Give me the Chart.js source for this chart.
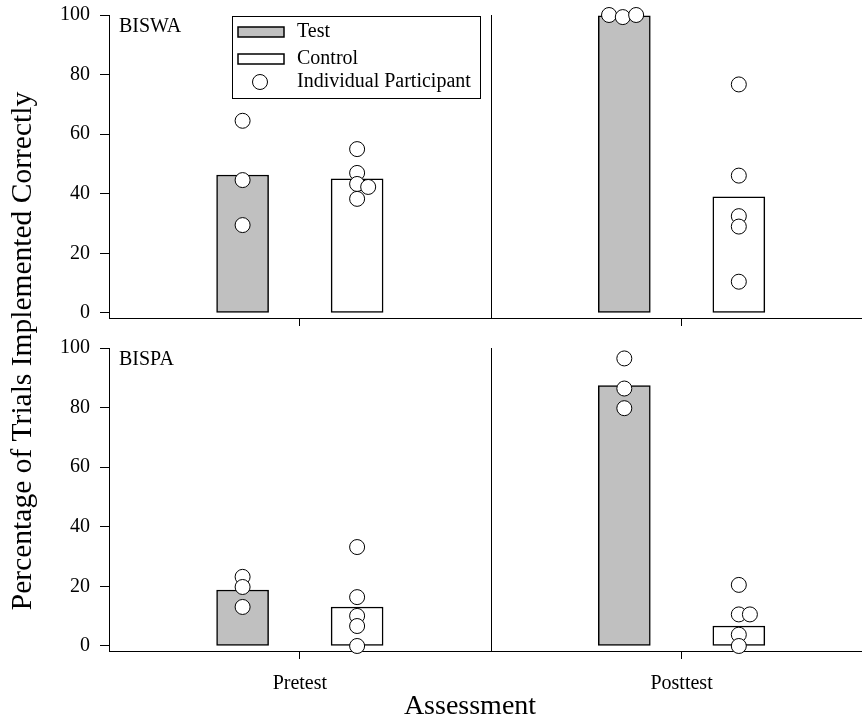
<!DOCTYPE html>
<html>
<head>
<meta charset="utf-8">
<script src="https://cdn.jsdelivr.net/npm/chart.js@4"></script>
<style>
  html, body { margin: 0; padding: 0; background: #fff; overflow: hidden; }
  #wrap { position: relative; width: 862px; height: 725px; overflow: hidden; }
  #wrap canvas { position: absolute; left: 0; top: 0; }
</style>
</head>
<body>
<div id="wrap">
  <canvas id="panel-biswa" width="871" height="725"></canvas>
  <canvas id="panel-bispa" width="871" height="725"></canvas>
</div>
<script>
const assessments = ["Pretest", "Posttest"];
const groups = ["Test", "Control"];
const yTicks = [0, 20, 40, 60, 80, 100];

// group means [pretest, posttest]
const biswaTest = [46.3, 99.7];
const biswaControl = [45, 39];
const bispaTest = [18.8, 87.4];
const bispaControl = [13.1, 6.7];

// individual participants
const biswaTestPre = [64.5, 44.6, 29.5];
const biswaTestPost = [100, 99.3, 100];
const biswaControlPre = [55, 47, 43.3, 42.3, 38.3];
const biswaControlPost = [76.7, 46.1, 32.5, 29, 10.5];
const bispaTestPre = [23.2, 19.8, 13.1];
const bispaTestPost = [96.5, 86.4, 79.8];
const bispaControlPre = [33.2, 16.4, 10.1, 6.7, 0];
const bispaControlPost = [20.5, 10.6, 10.6, 3.8, 0];

// little sideways nudges so overlapping circles show (category units)
const nudgeBiswaTestPost = [-0.04, -0.004, 0.031];
const nudgeBiswaControlPre = [0, 0, 0, 0.029, 0];
const nudgeBispaControlPost = [0, 0, 0.029, 0, 0];

const FONT = "'Liberation Serif', 'Times New Roman', serif";
const barOffset = 0.15;   // test bar left of category, control right
const yMin = -1.68;       // axis line sits a bit below zero

function barData(vals, side) {
  return vals.map((v, i) => ({ x: i + 1 + side * barOffset, y: v }));
}
function pointData(vals, cat, side, nudge) {
  return vals.map((v, i) => ({ x: cat + 1 + side * barOffset + (nudge ? nudge[i] : 0), y: v }));
}

function pointSet(data) {
  return {
    type: "scatter",
    label: "Individual Participant",
    data: data,
    order: 0,
    clip: false,
    pointRadius: 7.5,
    pointHoverRadius: 7.5,
    pointBackgroundColor: "#ffffff",
    pointBorderColor: "#000000",
    pointBorderWidth: 1
  };
}

const dividerPlugin = {
  id: "divider",
  afterDatasetsDraw(chart) {
    const { ctx, chartArea, scales } = chart;
    const x = Math.round(scales.x.getPixelForValue(1.5)) + 0.5;
    ctx.save();
    ctx.strokeStyle = "#000";
    ctx.lineWidth = 1;
    ctx.beginPath();
    ctx.moveTo(x, chartArea.top);
    ctx.lineTo(x, chartArea.bottom);
    ctx.stroke();
    ctx.restore();
  }
};

const panelLabel = {
  id: "panelLabel",
  afterDraw(chart, args, opts) {
    const { ctx, chartArea } = chart;
    ctx.save();
    ctx.font = "20px " + FONT;
    ctx.fillStyle = "#000";
    ctx.textBaseline = "middle";
    ctx.fillText(opts.text, chartArea.left + 10, chartArea.top + 12);
    ctx.restore();
  }
};

const boxLegend = {
  id: "boxLegend",
  afterDraw(chart, args, opts) {
    if (!opts.show) return;
    const ctx = chart.ctx;
    const ds = chart.data.datasets;
    const bars = ds.filter(d => d.type !== "scatter");
    const pts = ds.find(d => d.type === "scatter");
    ctx.save();
    ctx.strokeStyle = "#000";
    ctx.lineWidth = 1;
    ctx.strokeRect(232.5, 16.5, 248, 82);
    ctx.font = "20px " + FONT;
    ctx.textBaseline = "middle";
    ctx.fillStyle = "#000";
    const rows = [32, 59, 82];
    bars.forEach((b, i) => {
      ctx.fillStyle = b.backgroundColor;
      ctx.fillRect(238, rows[i] - 5, 46, 10);
      ctx.lineWidth = 1.5;
      ctx.strokeRect(238, rows[i] - 5, 46, 10);
      ctx.fillStyle = "#000";
      ctx.fillText(b.label, 297, rows[i]);
    });
    ctx.beginPath();
    ctx.arc(260, rows[2], 7.5, 0, Math.PI * 2);
    ctx.fillStyle = "#fff";
    ctx.fill();
    ctx.lineWidth = 1;
    ctx.stroke();
    ctx.fillStyle = "#000";
    ctx.fillText(pts.label, 297, rows[2]);
    ctx.restore();
  }
};

// axis titles: the y one spans both panels, the x one sits a bit left of centre
const axisTitles = {
  id: "axisTitles",
  afterDraw(chart, args, opts) {
    if (!opts.y) return;
    const ctx = chart.ctx;
    ctx.save();
    ctx.fillStyle = "#000";
    ctx.textAlign = "center";
    ctx.textBaseline = "middle";
    ctx.font = "28px " + FONT;
    ctx.fillText(opts.x, 470, 707);
    ctx.translate(23, 351);
    ctx.rotate(-Math.PI / 2);
    ctx.font = "29.5px " + FONT;
    ctx.fillText(opts.y, 0, 0);
    ctx.restore();
  }
};

function makePanel(id, name, testMeans, ctlMeans, pts, opt) {
  const datasets = [
    pointSet(pts),
    {
      type: "bar", label: groups[0], data: barData(testMeans, -1), order: 1,
      backgroundColor: "#c0c0c0", borderColor: "#000", borderWidth: 1.5,
      barThickness: 52, borderSkipped: false, grouped: false
    },
    {
      type: "bar", label: groups[1], data: barData(ctlMeans, 1), order: 1,
      backgroundColor: "#ffffff", borderColor: "#000", borderWidth: 1.5,
      barThickness: 52, borderSkipped: false, grouped: false
    }
  ];
  return new Chart(document.getElementById(id), {
    type: "bar",
    data: { datasets: datasets },
    plugins: [dividerPlugin, panelLabel, boxLegend, axisTitles],
    options: {
      responsive: false,
      animation: false,
      devicePixelRatio: 1,
      layout: { padding: { top: opt.top, bottom: opt.padBottom, left: 0, right: 0 } },
      plugins: {
        legend: { display: false },
        tooltip: { enabled: false },
        panelLabel: { text: name },
        boxLegend: { show: opt.legend },
        axisTitles: { x: opt.xTitle, y: opt.yTitle }
      },
      scales: {
        x: {
          type: "linear",
          offset: false,
          min: 0.5,
          max: 2.474,
          afterBuildTicks: s => { s.ticks = [{ value: 1 }, { value: 2 }]; },
          afterFit: s => { s.height = opt.xHeight; s.paddingLeft = 0; s.paddingRight = 0; },
          grid: { offset: false, drawOnChartArea: false, drawTicks: true, tickLength: 8, color: "#000", lineWidth: 1 },
          border: { display: true, color: "#000", width: 1 },
          ticks: {
            display: opt.xLabels,
            padding: 13,
            color: "#000",
            font: { family: FONT, size: 20 },
            callback: (v, i) => assessments[i]
          }
        },
        y: {
          min: yMin,
          max: 100,
          afterBuildTicks: s => { s.ticks = yTicks.map(v => ({ value: v })); },
          afterFit: s => { s.width = 109; s.paddingTop = 0; s.paddingBottom = 0; },
          grid: { drawOnChartArea: false, drawTicks: true, tickLength: 9, color: "#000", lineWidth: 1 },
          border: { display: true, color: "#000", width: 1 },
          ticks: { padding: 10, color: "#000", font: { family: FONT, size: 20 } }
        }
      }
    }
  });
}

makePanel("panel-biswa", "BISWA", biswaTest, biswaControl,
  [].concat(
    pointData(biswaTestPre, 0, -1),
    pointData(biswaTestPost, 1, -1, nudgeBiswaTestPost),
    pointData(biswaControlPre, 0, 1, nudgeBiswaControlPre),
    pointData(biswaControlPost, 1, 1)
  ),
  { top: 15, padBottom: 725 - 318 - 10, xHeight: 10, xLabels: false, legend: true, xTitle: "", yTitle: "" });

makePanel("panel-bispa", "BISPA", bispaTest, bispaControl,
  [].concat(
    pointData(bispaTestPre, 0, -1),
    pointData(bispaTestPost, 1, -1),
    pointData(bispaControlPre, 0, 1),
    pointData(bispaControlPost, 1, 1, nudgeBispaControlPost)
  ),
  { top: 348, padBottom: 0, xHeight: 725 - 651, xLabels: true, legend: false,
    xTitle: "Assessment", yTitle: "Percentage of Trials Implemented Correctly" });
</script>
</body>
</html>
